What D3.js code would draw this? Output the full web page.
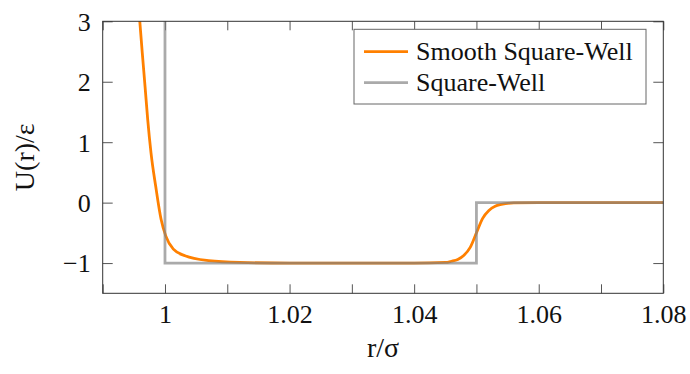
<!DOCTYPE html>
<html>
<head>
<meta charset="utf-8">
<script src="https://cdn.jsdelivr.net/npm/d3@7"></script>
<style>
  body { margin: 0; background: #fff; }
  text { font-family: "Liberation Serif", serif; fill: #111; }
</style>
</head>
<body>
<svg id="chart" width="690" height="374"></svg>
<script>
// smooth square-well curve
var smoothX = [0.99565, 0.99594, 0.99636, 0.99680, 0.99723, 0.99776, 0.99851, 0.99937,
               1.00012, 1.00134, 1.00322, 1.0070, 1.0120, 1.0200, 1.0300, 1.0400,
               1.0450, 1.0460, 1.0470, 1.0480, 1.0490, 1.0500, 1.0510, 1.0520,
               1.0530, 1.0540, 1.0560, 1.0600, 1.0800];
var smoothY = [3.4, 3.02, 2.47, 1.92, 1.37, 0.82, 0.27, -0.275,
               -0.55, -0.77, -0.88, -0.96, -0.99, -1.0, -1.0, -1.0,
               -0.99, -0.97, -0.94, -0.87, -0.74, -0.5, -0.26, -0.13,
               -0.06, -0.03, -0.005, 0, 0];
// hard square-well
var wellX = [1, 1, 1.05, 1.05, 1.08];
var wellY = [3.5, -1, -1, 0, 0];

var xTicks = [0.99, 1, 1.01, 1.02, 1.03, 1.04, 1.05, 1.06, 1.07, 1.08];
var xTickLabels = ['', '1', '', '1.02', '', '1.04', '', '1.06', '', '1.08'];
var yTicks = [-1, 0, 1, 2, 3];
var yTickLabels = ['\u22121', '0', '1', '2', '3'];
var seriesNames = ['Smooth Square-Well', 'Square-Well'];

var svg = d3.select('#chart');
var margin = {top: 21.3, left: 102.7, right: 26.7, bottom: 80.7};
var w = 690 - margin.left - margin.right,
    h = 374 - margin.top - margin.bottom;

var x = d3.scaleLinear().domain([0.99, 1.08]).range([0, w]);
var y = d3.scaleLinear().domain([-1.5, 3]).range([h, 0]);

var g = svg.append('g').attr('transform', 'translate(' + margin.left + ',' + margin.top + ')');

g.append('clipPath').attr('id', 'clip')
  .append('rect').attr('width', w).attr('height', h);

// ticks on all four sides, pointing inward
function inTicks(axis, len) {
  return axis.tickSizeInner(-len).tickSizeOuter(0);
}
var tickColor = '#555';

var xb = g.append('g').attr('transform', 'translate(0,' + h + ')')
  .call(inTicks(d3.axisBottom(x).tickValues(xTicks).tickFormat(function(d, i) { return xTickLabels[i]; }), 9));
var xt = g.append('g')
  .call(inTicks(d3.axisTop(x).tickValues(xTicks).tickFormat(''), 9));
var yl = g.append('g')
  .call(inTicks(d3.axisLeft(y).tickValues(yTicks).tickFormat(function(d, i) { return yTickLabels[i]; }), 10));
var yr = g.append('g').attr('transform', 'translate(' + w + ',0)')
  .call(inTicks(d3.axisRight(y).tickValues(yTicks).tickFormat(''), 10));

[xb, xt, yl, yr].forEach(function(a) {
  a.select('.domain').remove();
  a.selectAll('.tick line').attr('stroke', tickColor).attr('stroke-width', 1);
  a.selectAll('.tick text').attr('font-family', '"Liberation Serif", serif')
    .attr('font-size', 26).attr('fill', '#111');
});
xb.selectAll('.tick text').attr('y', 11).attr('dy', '0.71em');
yl.selectAll('.tick text').attr('x', -12).attr('dy', '0.34em');

var lineSmooth = d3.line()
  .x(function(d) { return x(d[0]); })
  .y(function(d) { return y(d[1]); })
  .curve(d3.curveMonotoneX);
var lineWell = d3.line()
  .x(function(d) { return x(d[0]); })
  .y(function(d) { return y(d[1]); });

var plot = g.append('g').attr('clip-path', 'url(#clip)');
plot.append('path')
  .datum(d3.zip(smoothX, smoothY))
  .attr('d', lineSmooth)
  .attr('fill', 'none')
  .attr('stroke', '#ff8000')
  .attr('stroke-width', 2.8);
plot.append('path')
  .datum(d3.zip(wellX, wellY))
  .attr('d', lineWell)
  .attr('fill', 'none')
  .attr('stroke', 'rgb(130,130,130)')
  .attr('stroke-opacity', 0.68)
  .attr('stroke-width', 2.8);

// frame
g.append('rect').attr('width', w).attr('height', h)
  .attr('fill', 'none').attr('stroke', '#333').attr('stroke-width', 1);

// legend
var leg = svg.append('g');
leg.append('rect').attr('x', 354).attr('y', 29.3).attr('width', 292).attr('height', 74.7)
  .attr('fill', '#fff').attr('stroke', '#666').attr('stroke-width', 1);
var legColors = ['#ff8000', '#aaaaaa'];
seriesNames.forEach(function(name, i) {
  var cy = 51.7 + i * 31;
  leg.append('line').attr('x1', 364).attr('x2', 408).attr('y1', cy).attr('y2', cy)
    .attr('stroke', legColors[i]).attr('stroke-width', 2.8);
  leg.append('text').attr('x', 416).attr('y', cy).attr('dy', '0.33em')
    .attr('font-size', 26).text(name);
});

// axis labels
svg.append('text')
  .attr('x', margin.left + w / 2).attr('y', 357)
  .attr('text-anchor', 'middle').attr('font-size', 28)
  .text('r/\u03c3');
svg.append('text')
  .attr('transform', 'translate(34,' + (margin.top + h / 2) + ') rotate(-90)')
  .attr('text-anchor', 'middle').attr('font-size', 28)
  .text('U(r)/\u03b5');
</script>
</body>
</html>
